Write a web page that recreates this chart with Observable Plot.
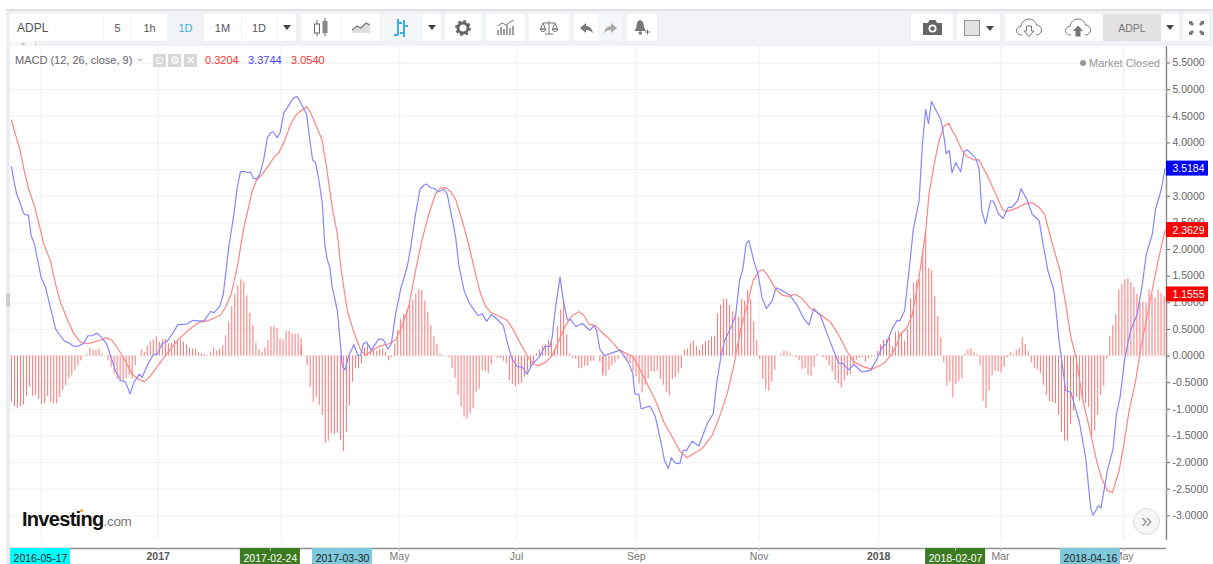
<!DOCTYPE html>
<html>
<head>
<meta charset="utf-8">
<script src="https://cdn.jsdelivr.net/npm/d3@7"></script>
<script src="https://cdn.jsdelivr.net/npm/@observablehq/plot@0.6"></script>
<style>
html,body{margin:0;padding:0;background:#fff;overflow:hidden}
#page{position:relative;width:1213px;height:564px;font-family:"Liberation Sans",Arial,sans-serif;overflow:hidden}
#tool{position:relative;height:46px;width:1213px}
#tool .bg{position:absolute;left:6px;right:0;top:9px;bottom:0;background:#f0f2f5;border-top:2px solid #e0e1e3;box-sizing:border-box}
.b{position:absolute;top:14px;height:27px;background:#fff;display:flex;align-items:center;justify-content:center;font-size:11px;color:#555;box-sizing:border-box}
.b svg{display:block}
.ov{position:absolute;white-space:nowrap}
#chart svg{display:block}
</style>
</head>
<body>
<div id="page">
  <div id="tool"><div class="bg"></div></div>
  <div id="chart"></div>
</div>
<script>
// ---------- chart values: x is the trading-bar number, y is the MACD value ----------
const histA = [-.87,-.95,-.98,-.95,-.92,-.76,-.58,-.76,-.74,-.81,-.91,-.89,-.76,-.87,-.90,-.90,-.78,-.65,-.56,-.42,-.37,-.28,-.18,-.09,-.01,.03,.15,.11,.11,.13,.04,0,-.09,-.21,-.34,-.44,-.49,-.46,-.42,-.37,-.43,-.18,0,.11,.07,.19,.26,.30,.36,.26,.31,.32,.23,.24,.29,.27,.30,.26,.21,.15,.13,.13,.06,.04,.03,.01,.06,.15,.09,.13,.19,.38,.64,.93,1.15,1.32,1.43,1.39,1.13,.80,.57,.24,.12,.06,.15,.29,.55,.55,.52,.32,.30,.46,.46,.41,.41,.41,.33];
const histB = [.18,0,-.18,-.59,-.87,-.78,-.93,-1.12,-1.64,-1.60,-1.46,-1.48,-1.45,-1.59,-1.79,-1.43,-.93,-.49,-.24,-.24,-.15,.15,.22,.07,.13,.09,.13,.13,.06,-.09,-.03,.22,.48,.68,.79,.85,.96,1.04,1.16,1.24,1.23,1.03,.82,.57,.36,.22,.04,.01,0,-.03,-.23,-.42,-.74,-.96,-1.15,-1.18,-1.09,-.99,-.68,-.62,-.28,-.29,-.33,-.17,-.01,-.04,-.05,-.10,-.15,-.46,-.53,-.57,-.54,-.51,-.40,-.34,-.21,-.15,.04,.11,.19,.22,.29,.28,.13,.55,.86,1.03,.40,.04,-.04,-.06,-.24,-.23,-.19,-.19,-.10,-.10,0,-.12,-.33];
const histC = [-.38,-.38,-.27,-.19,-.13,-.07,0,-.04,-.09,-.14,-.30,-.39,-.52,-.69,-.55,-.43,-.29,-.30,-.28,-.44,-.55,-.68,-.75,-.44,-.41,-.33,-.23,.11,.13,.23,.28,.18,.11,.21,.27,.29,.36,.37,.79,.95,1.06,1.07,.95,.83,.76,.73,1.06,1.03,1.23,1.06,.65,.29,-.07,-.44,-.63,-.66,-.49,-.27,0,.04,.09,.09,.04,-.01,-.03,-.09,-.25,-.24,-.36,-.38,-.21,.03,0,-.03,-.08,-.18,-.30,-.46,-.52,-.60,-.47,-.38,-.35,-.18,-.08,-.05,-.03,-.11,-.05,-.02,-.01,.09,.21,.29,.31,.33,.17,.45,.47,.42];
const histD = [.24,.28,.49,1.08,1.37,1.41,1.43,1.98,2.34,1.64,1.60,1.11,.74,.35,-.12,-.56,-.49,-.79,-.53,-.48,-.42,.04,.11,.14,.07,.03,-.18,-.85,-.98,-.66,-.37,-.28,-.29,-.32,-.21,-.03,.06,.03,.10,.14,.34,.22,.08,-.13,-.23,-.26,-.33,-.55,-.74,-.86,-.87,-.90,-1.11,-1.43,-1.60,-1.60,-1.29,-1.03,-.78,-.85,-.84,-.89,-.96,-1.53,-1.41,-1.11,-.74,-.57,-.06,.36,.57,.78,1.24,1.34,1.43,1.45,1.38,1.29,1.16,1.01,1.01,.99,1.24,1.15,1.09,1.24,1.18,1.11];
const histStarts = [0,96,196,295];

const macdA = [[0,3.55],[.8,3.29],[1.7,3.04],[2.8,2.88],[3.9,2.69],[4.6,2.65],[5.6,2.65],[6.5,2.26],[7.6,2.10],[8.5,1.85],[9.8,1.48],[11.3,1.29],[12.9,.91],[14.6,.51],[16.2,.38],[17.6,.28],[19,.25],[20.7,.18],[22.3,.19],[24,.24],[25.3,.38],[26.7,.38],[28.4,.43],[30,.34],[31.5,.23],[32.8,.01],[34.5,-.28],[36.1,-.45],[37.8,-.49],[39.3,-.71],[40.6,-.49],[42.4,-.34],[43.3,-.40],[45,-.18],[47,.03],[48.3,.03],[49.9,.23],[51.6,.28],[53.3,.41],[55.1,.59],[58.2,.60],[60.2,.67],[61.5,.66],[63.8,.66],[66,.84],[67.1,.81],[69,.93],[70.2,1.16],[72,2.04],[73.7,2.66],[74.8,3.16],[75.9,3.46],[77.6,3.46],[78.5,3.44],[79.2,3.46],[80.1,3.34],[81.2,3.32],[82.3,3.41],[83.6,3.69],[84.8,4.10],[85.9,4.19],[86.7,4.21],[88.1,4.10],[89,4.19],[90.3,4.57],[92.5,4.76],[93.6,4.85],[94.7,4.87],[95.8,4.76]];
const macdB = [[97.8,4.54],[98.9,4.04],[99.8,3.68],[100.8,3.63],[101.9,3.29],[103,2.88],[103.8,2.10],[104.6,1.82],[105.5,1.66],[106.3,1.29],[108,.85],[108.8,.35],[109.6,-.18],[110.5,-.26],[111.8,.01],[113.5,.21],[114.8,.01],[115.7,.01],[116.6,.23],[117.7,.26],[119.2,.11],[121.8,.32],[123.2,.31],[124.8,.13],[125.9,.23],[127.3,.79],[129,1.26],[131.2,1.69],[132.3,2.04],[133.9,2.66],[135.4,3.13],[136.7,3.21],[137.6,3.23],[138.9,3.16],[140.3,3.14],[141.3,3.08],[143.3,3.13],[144.4,3.04],[145.5,2.73],[147.2,2.23],[148.3,1.69],[150,1.23],[151.6,1.01],[153.8,.82],[154.7,.76],[156,.79],[157.5,.65],[159,.78],[161,.69],[163,.57],[164.3,.26],[165.7,-.03],[167.6,-.20],[169.3,-.21],[170.9,-.34],[172.6,-.15],[174.8,-.03],[176.8,.18],[178.5,.18],[179.2,.35],[180.3,.91],[181.8,1.48],[182.9,1.04],[184.2,.68],[185.5,.68],[187,.55],[189.2,.61],[191.7,.48],[193,.57],[193.9,.48],[195,.13]];
const macdC = [[196.5,.01],[199.1,.06],[201.6,.11],[202.9,.01],[204.6,-.14],[205.9,-.33],[206.6,-.71],[207.9,-.72],[208.7,-.99],[211.6,-.94],[213.4,-1.14],[215.1,-1.58],[216.4,-1.96],[217.7,-2.11],[218.7,-1.91],[220,-2.01],[221.5,-2.02],[222.6,-1.77],[223.7,-1.77],[225.6,-1.60],[227.8,-1.69],[230.6,-1.27],[232.6,-1.08],[233.7,-.52],[235.2,.01],[236.3,.28],[238.8,.58],[240,.76],[241.3,1.42],[242.4,1.64],[243.5,2.11],[244.4,2.17],[246,1.79],[247.4,1.54],[248.8,1.08],[250.2,.89],[252.1,1.04],[253.4,1.28],[255.4,1.23],[258,1.14],[260.4,.95],[262.6,.70],[264.3,.58],[265.9,.89],[268.1,.76],[270.3,.42],[273.1,.01],[274.2,-.14],[275.3,-.13],[277.5,-.26],[279.2,-.16],[281.9,-.30],[284.7,-.27],[286.9,-.05],[288.6,.17],[290,.23],[291.9,.51],[293.5,.67],[294.4,.66]];
const macdD = [[296,.85],[297.1,1.41],[298.9,2.38],[300.8,2.91],[301.9,3.98],[303,4.63],[303.9,4.36],[304.9,4.78],[306.6,4.59],[308,4.44],[309.1,4.10],[309.8,3.80],[310.8,3.86],[311.7,3.44],[312.9,3.63],[314.6,3.46],[315.7,3.84],[316.8,3.87],[319.6,3.71],[320.7,3.51],[321.6,2.73],[322.8,2.48],[324.5,2.91],[325.4,2.91],[327,2.68],[328.6,2.58],[330.3,2.79],[331.5,2.79],[333.4,2.91],[334.6,3.14],[336.5,2.94],[338.3,2.66],[340.6,2.54],[341.7,2.16],[343.5,1.60],[345.5,1.23],[347.2,.29],[349.4,-.65],[351.1,-.68],[353.8,-1.21],[356,-1.90],[357.7,-2.87],[358.5,-2.99],[360.2,-2.81],[361.1,-2.85],[363.2,-2.15],[365.1,-1.74],[366.2,-1.09],[367.4,-.78],[369,-.03],[370.9,.48],[373.1,.79],[374.8,1.35],[376.1,1.91],[378.1,2.29],[379.2,2.76],[381.1,3.13],[382.3,3.52]];

const signalA = [[0,4.43],[1.3,4.16],[2.8,3.88],[4.1,3.51],[5.7,3.13],[7.4,2.85],[9.1,2.48],[10.7,2.10],[12.9,1.79],[14.6,1.35],[16.2,1.01],[18.5,.69],[20.7,.41],[22.9,.26],[25.1,.23],[27.3,.26],[29.5,.30],[31.5,.34],[33.4,.29],[35,.16],[36.7,.01],[38.3,-.15],[40,-.34],[42.2,-.44],[44.1,-.48],[46.1,-.37],[48.3,-.20],[50.5,-.03],[52.7,.13],[55.5,.32],[57.7,.44],[59.9,.54],[62.1,.63],[64.9,.66],[67.1,.71],[69.3,.77],[70.9,.91],[72.8,1.16],[74.8,1.66],[75.9,2.04],[77,2.41],[78.3,2.73],[79.8,3.10],[81.2,3.30],[83.1,3.41],[84.8,3.54],[87,3.73],[88.6,3.82],[90.3,4.01],[92.5,4.35],[94.1,4.51],[95.8,4.60]];
const signalB = [[97.8,4.68],[99.1,4.57],[100.8,4.35],[103,4.04],[104.4,3.54],[106.3,2.79],[108,2.29],[109.3,1.60],[111.3,.85],[113.5,.44],[115.7,.11],[117.3,.01],[119.6,.11],[121.8,.18],[125.1,.23],[127.3,.30],[129.5,.57],[131.7,.94],[133.9,1.60],[136.1,2.19],[138.3,2.66],[140.5,3.04],[142.2,3.15],[143.9,3.16],[145.5,3.09],[147.2,2.94],[149.4,2.54],[151.6,2.07],[153.8,1.54],[155.5,1.16],[157.1,.94],[158.8,.82],[161,.76],[164.1,.68],[166.5,.48],[168.7,.23],[170.9,.01],[172.9,-.15],[174.8,-.18],[177,-.12],[179.2,.01],[181.4,.29],[183.6,.57],[185.9,.76],[188.1,.83],[189.7,.76],[191.4,.60],[193.6,.57],[195,.48]];
const signalC = [[198,.33],[201.3,.12],[204,.04],[206,-.01],[207.9,-.21],[210.7,-.52],[213.4,-.83],[216.2,-1.24],[219,-1.52],[221.7,-1.80],[223.9,-1.91],[226.1,-1.83],[228.9,-1.74],[232.2,-1.49],[234.4,-1.18],[237.2,-.71],[239.4,-.18],[241.6,.48],[243.8,.95],[245.8,1.42],[247.7,1.59],[249.1,1.62],[251,1.48],[253.2,1.26],[255.4,1.14],[257.6,1.12],[259.8,1.16],[262,1.08],[264.8,.89],[268.1,.78],[271.4,.64],[274.2,.39],[277,.08],[279.2,-.11],[281.9,-.19],[285.2,-.25],[289.1,-.14],[291.9,.04],[293.5,.23],[294.4,.39]];
const signalD = [[296.9,.54],[298.6,.79],[300.8,1.48],[303,2.35],[304.1,3.04],[305.8,3.60],[307.4,4.04],[309.1,4.32],[310.7,4.37],[311.8,4.23],[312.9,4.13],[315.1,3.85],[316.8,3.74],[319,3.68],[320.7,3.68],[324,3.32],[326.2,3.04],[328.4,2.76],[329.8,2.71],[333.4,2.78],[335.6,2.85],[338.3,2.88],[340.6,2.79],[342.4,2.66],[345,2.10],[347.5,1.60],[349.4,.98],[351.1,.35],[352.7,.01],[354.9,-.78],[357.7,-1.46],[359.6,-1.96],[361.2,-2.28],[363.2,-2.53],[364.9,-2.56],[367.1,-2.15],[368.7,-1.65],[370.4,-1.03],[372.6,-.46],[374.3,.16],[376.5,.79],[379.8,1.73],[382.3,2.36]];

const yTicks = [-3,-2.5,-2,-1.5,-1,-.5,0,.5,1,1.5,2,2.5,3,3.5,4,4.5,5,5.5];
const gridBars = [9.9,48.6,89.4,128.6,167.4,207.1,247.8,287.4,327.8,368.6];
const monthBars = [128.6,167.4,207.1,247.8,327.8,368.6];
const monthLabels = ["May","Jul","Sep","Nov","Mar","May"];
const yearBars = [48.6,287.4];
const yearLabels = ["2017","2018"];
const markedBars = [9.6,85.8,109.7,312.9,357.6];
const markedLabels = ["2016-05-17","2017-02-24","2017-03-30","2018-02-07","2018-04-16"];
const markedFills = ["#00ffff","#3b7a1e","#7fc9dc","#3b7a1e","#7fc9dc"];
const markedInks = ["#222","#fff","#222","#fff","#222"];
const priceValues = [3.5184,2.3629,1.1555];
const priceFills = ["#0000ff","#ff0000","#ff0000"];

// ---------- tables for the library ----------
const hist = [histA,histB,histC,histD].flatMap((a,k)=>a.map((v,j)=>({i:histStarts[k]+j,v})));
const macd = [...macdA,...macdB,...macdC,...macdD];
const signal = [...signalA,...signalB,...signalC,...signalD];
const marked = markedBars.map((i,k)=>({i,label:markedLabels[k],fill:markedFills[k],ink:markedInks[k]}));
const prices = priceValues.map((v,k)=>({v,fill:priceFills[k]}));

const xDom = [-.33,382.8], yDom = [-3.463,5.81];
const yMin = yDom[0], xMax = xDom[1];
const gridColor = "#f3f3f5", axisColor = "#8f8f8f", labelColor = "#666";

const chart = Plot.plot({
  width:1213, height:518,
  marginLeft:10, marginRight:47, marginTop:0, marginBottom:24,
  x:{domain:xDom, axis:null},
  y:{domain:yDom, axis:null},
  style:{fontFamily:'"Liberation Sans",Arial,sans-serif', background:"transparent", overflow:"visible"},
  marks:[
    Plot.ruleY(yTicks,{stroke:gridColor,strokeWidth:1.3}),
    Plot.ruleX(gridBars,{stroke:gridColor,strokeWidth:1.3}),
    Plot.ruleX(hist,{x:"i",y1:()=>0,y2:"v",stroke:"#ff7575",strokeWidth:1}),
    Plot.line(signal,{x:d=>d[0],y:d=>d[1],stroke:"#ff8585",strokeWidth:1.2}),
    Plot.line(macd,{x:d=>d[0],y:d=>d[1],stroke:"#8787ff",strokeWidth:1.2}),
    Plot.axisY(yTicks,{anchor:"right",label:null,tickFormat:d=>d.toFixed(4),tickSize:3,tickPadding:3,fontSize:10.5,color:labelColor}),
    Plot.ruleX([xMax],{stroke:axisColor,strokeWidth:1.5}),
    Plot.ruleY([yMin],{dy:8,stroke:axisColor,strokeWidth:1.5}),
    Plot.axisX(monthBars,{anchor:"bottom",label:null,tickSize:0,tickPadding:12,fontSize:10.5,color:"#777",tickFormat:d=>monthLabels[monthBars.indexOf(d)]}),
    Plot.axisX(yearBars,{anchor:"bottom",label:null,tickSize:0,tickPadding:12,fontSize:10.5,fontWeight:"bold",color:"#555",tickFormat:d=>yearLabels[yearBars.indexOf(d)]}),
    Plot.rect(marked,{x1:"i",x2:"i",y1:()=>yMin,y2:()=>yMin,insetLeft:-30,insetRight:-30,insetTop:8,insetBottom:-24,fill:"fill"}),
    Plot.text(marked,{x:"i",y:()=>yMin,dy:18,text:"label",fill:"ink",fontSize:10.5}),
    Plot.ruleX([...gridBars.slice(1).filter(d=>d!==89.4&&d!==368.6),...markedBars,368.6],{x:d=>d,y1:()=>yMin,y2:()=>yMin,insetTop:8,insetBottom:-11,stroke:"#bbb"}),
    Plot.rect(prices,{x1:()=>xMax,x2:()=>xMax,y1:"v",y2:"v",insetRight:-42,insetTop:-7.5,insetBottom:-7.5,fill:"fill"}),
    Plot.text(prices,{x:()=>xMax,y:"v",dx:22,text:d=>d.v.toFixed(4),fill:"#fff",fontSize:10.5})
  ]
});
document.getElementById("chart").appendChild(chart);

// ---------- toolbar and overlays ----------
const tool = document.getElementById("tool"), page = document.getElementById("page");
function btn(x,w,html,style){const d=document.createElement("div");d.className="b";d.style.left=x+"px";d.style.width=w+"px";if(style)d.style.cssText+=style;d.innerHTML=html;tool.appendChild(d);}
const ic = (w,h,s)=>`<svg width="${w}" height="${h}" viewBox="0 0 ${w} ${h}">${s}</svg>`;
const caret = ic(8,5,'<path d="M0 0H8L4 5Z" fill="#444"/>');
btn(10,93,'ADPL','justify-content:flex-start;padding-left:7px;font-size:12px;');
btn(104,27,'5'); btn(132,35,'1h'); btn(168,35,'1D','background:#f0f2f5;color:#3baee6;');
btn(204,37,'1M'); btn(242,34,'1D'); btn(277,19,caret);
btn(301,39,ic(16,20,'<path d="M4 2V18M12 0V18" stroke="#666"/><rect x="1.5" y="6" width="5" height="9" fill="#fff" stroke="#666"/><rect x="9.5" y="3" width="5" height="12" fill="#888"/>'));
btn(341,39,ic(18,11,'<path d="M0 11V8L5 4L9 6L14 1L18 3V11Z" fill="#ddd"/><path d="M0 8L5 4L9 6L14 1L18 3" stroke="#777" fill="none" stroke-width="1.3"/>'));
btn(381,40,ic(16,20,'<path d="M5 1V17M1 17H5M5 5H9M11 2V19M7 15H11M11 8H15" stroke="#3baee6" stroke-width="2" fill="none"/>'),'background:#f5f6f8;');
btn(422,19,caret);
btn(445,36,ic(16,16,'<circle cx="8" cy="8" r="5" fill="none" stroke="#666" stroke-width="3"/><circle cx="8" cy="8" r="6.6" fill="none" stroke="#666" stroke-width="2.6" stroke-dasharray="2.6 2.6"/>'));
btn(486,39,ic(18,15,'<path d="M1 15V10M4 15V7M7 15V9M10 15V5M13 15V8M16 15V6" stroke="#777" stroke-width="1.4"/><path d="M1 6L5 3L9 5L13 2L17 0" stroke="#777" fill="none"/>'));
btn(529,40,ic(18,14,'<path d="M9 0V13M5 13H13M3 2H15M3 2L0.5 8H5.5ZM15 2L12.5 8H17.5Z" stroke="#777" fill="none"/><path d="M0.5 8A2.5 2.5 0 0 0 5.5 8ZM12.5 8A2.5 2.5 0 0 0 17.5 8Z" fill="none" stroke="#777"/>'));
btn(574,24,ic(13,10,'<path d="M6 0L0 5L6 10V7C9 7 11 8 13 10C12 6 10 3 6 3Z" fill="#777"/>'));
btn(598,24,ic(13,10,'<path d="M7 0L13 5L7 10V7C4 7 2 8 0 10C1 6 3 3 7 3Z" fill="#aaa"/>'),'background:#f6f7f8;');
btn(627,30,ic(17,15,'<path d="M6 0C3 1 2.500 4 2.500 7L0.500 11H12L10 7C10 4 9 1 6 0Z" fill="#777"/><circle cx="6.300" cy="13" r="1.700" fill="#777"/><path d="M13.500 9.500V14.500M11 12H16" stroke="#777"/>'));
btn(911,42,ic(19,15,'<path d="M0 3H5L6.500 0H12.500L14 3H19V15H0Z" fill="#666"/><circle cx="9.500" cy="8.500" r="4" fill="#fff"/><circle cx="9.500" cy="8.500" r="2.300" fill="#666"/>'));
btn(957,43,ic(30,16,'<rect x=".5" y=".5" width="15" height="15" fill="#e2e2e2" stroke="#999"/><path d="M24 6H32L28 11Z" fill="#444" transform="translate(-2,0)"/>'));
const cloud='M6 17C2 17 0.500 14.500 0.500 12.500C0.500 10 2.500 8.500 5 8.500C5.500 4 9 1 13 1C17 1 19.500 3.500 20.500 7C23.500 7 25.500 9.500 25.500 12C25.500 15 23 17 20 17';
btn(1005,48,ic(26,19,`<path d="${cloud}" fill="none" stroke="#777"/><path d="M10.500 8V13H8L13 18.500L18 13H15.500V8Z" fill="#fff" stroke="#777"/>`));
btn(1053,50,ic(26,19,`<path d="${cloud}" fill="none" stroke="#777"/><path d="M10.500 18.500V13H8L13 7.500L18 13H15.500V18.500Z" fill="#777"/>`));
btn(1103,58,'ADPL','background:#e2e2e2;color:#777;font-size:10.5px;');
btn(1161,18,caret);
btn(1183,26,ic(17,16,'<path d="M1 1H5L4 2L6 4L4 6L2 4L1 5ZM16 1H12L13 2L11 4L13 6L15 4L16 5ZM1 15H5L4 14L6 12L4 10L2 12L1 11ZM16 15H12L13 14L11 12L13 10L15 12L16 11Z" fill="#777"/>'));
tool.insertAdjacentHTML("beforeend",'<div class="ov" style="left:10px;top:41px;width:25px;height:5px;background:#f7f8f9;border-right:1px solid #ddd"></div><div class="ov" style="left:20px;top:42px;width:0;height:0;border:3px solid transparent;border-bottom-color:#ccc;border-top:0"></div>');

function ov(html,css){page.insertAdjacentHTML("beforeend",`<div class="ov" style="${css}">${html}</div>`);}
ov('','left:6px;top:46px;width:4px;height:518px;background:#eceef1');
ov('','left:6px;top:293px;width:4px;height:14px;background:#ccc;border-radius:3px 0 0 3px');
ov('MACD (12, 26, close, 9)','left:15px;top:53px;font-size:11px;line-height:14px;color:#666;font-family:"Open Sans",sans-serif');
ov('','left:137px;top:59px;width:0;height:0;border:3.5px solid transparent;border-top-color:#ccc;border-bottom:0');
ov('⊙','left:153px;top:54px;width:13px;height:13px;background:#d8d8d8;color:#fff;font-size:11px;line-height:13px;text-align:center');
ov('⚙','left:168px;top:54px;width:13px;height:13px;background:#d8d8d8;color:#fff;font-size:11px;line-height:13px;text-align:center');
ov('✕','left:184px;top:54px;width:13px;height:13px;background:#d8d8d8;color:#fff;font-size:11px;line-height:13px;text-align:center');
ov('0.3204','left:205px;top:53px;font-size:11px;line-height:14px;color:#f33');
ov('3.3744','left:248px;top:53px;font-size:11px;line-height:14px;color:#44f');
ov('3.0540','left:291px;top:53px;font-size:11px;line-height:14px;color:#f33');
ov('','left:1080px;top:60px;width:6px;height:6px;border-radius:3px;background:#999');
ov('Market Closed','left:1089px;top:56px;font-size:11px;line-height:14px;color:#999;font-family:"Open Sans",sans-serif');
ov('Investing<span style="font-weight:normal;font-size:13.5px;color:#777;letter-spacing:-.3px">.com</span>','left:22px;top:507px;font-size:20px;line-height:24px;font-weight:bold;color:#111;letter-spacing:-.7px');
ov('','left:80px;top:509px;width:3px;height:3px;border-radius:2px;background:#f5a623');
ov('»','left:1133px;top:508px;width:25px;height:25px;border-radius:14px;border:1px solid #ddd;background:#f6f6f6;color:#999;font-size:20px;line-height:22px;text-align:center');
</script>
</body>
</html>
